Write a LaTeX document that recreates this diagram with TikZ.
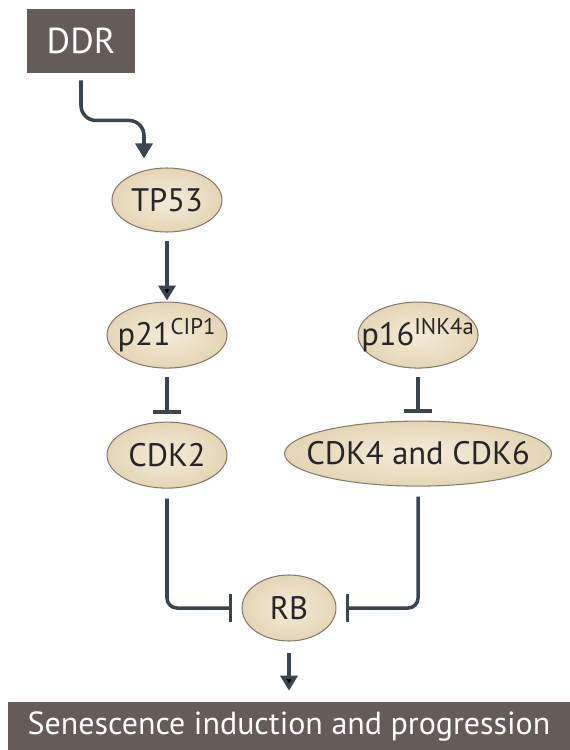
\documentclass[tikz,border=0pt]{standalone}
\usepackage{fontspec}
\setmainfont{PT Sans}
\usepackage{tikz}
\usetikzlibrary{arrows.meta,positioning,shapes.geometric,calc}
\definecolor{boxgrey}{HTML}{655B59}
\definecolor{protin}{HTML}{F4ECDA}
\definecolor{protout}{HTML}{E4D6B4}
\definecolor{rim}{HTML}{857B6C}
\definecolor{wire}{HTML}{3A4550}
% keeps the text from widening the ellipse
\newcommand{\pname}[1]{\makebox[0pt]{#1}}

\begin{document}
\begin{tikzpicture}
 	[node distance = 1cm, auto, font=\fontsize{18.5}{20}\selectfont,
 	% STYLES
 	% The signal style is used for the dark boxes at top and bottom
 	signal/.style={rectangle, fill=boxgrey, text=white, inner sep=0pt, minimum width=2.14cm, minimum height=1.28cm},
 	% The protein style is used to draw the proteins' names
 	protein/.style={ellipse, draw=rim, line width=0.6pt, inner color=protin, outer color=protout, inner sep=0pt, minimum width=2.4cm, minimum height=1.32cm, text=black!85},
 	% arrows for activation and inhibition
 	activate/.style={-{Triangle[length=0.3cm,width=0.34cm]}, line width=2pt, draw=wire},
 	inhibit/.style={-{Bar[width=0.56cm]}, line width=2pt, draw=wire}]
 	
 	\useasboundingbox (0,0) rectangle (11.4,-15);
 	
 	% top
 	\node [signal, font=\fontsize{20.5}{22}\selectfont] (DDR) at (1.62,-0.82) {DDR};
 	\node [protein, minimum width=2.2cm, minimum height=1.28cm] (TP53) at (3.34,-4.0) {\pname{TP53}};
 	%left
 	\node [protein, below = 1.38cm of TP53] (p21) {\pname{p21\textsuperscript{CIP1}}};
 	\node [protein, below = 1.06cm of p21] (CDK2) {\pname{CDK2}};
 	%right
 	\node [protein, right = 2.6cm of p21] (p16) {\pname{p16\textsuperscript{INK4a}}};
 	\node [protein, below = 1.04cm of p16, minimum width=5.34cm, minimum height=1.3cm] (CDK46) {\pname{CDK4 and CDK6}};
 	% bottom
 	\node [protein, minimum width=1.88cm] (RB) at (5.78,-12.16) {\pname{RB}};
 	\node [signal, minimum width=11.24cm, minimum height=0.96cm, font=\fontsize{18.2}{20}\selectfont] (Out) at (5.78,-14.52) {Senescence induction and progression};
 	
 	% DDR bends into TP53
 	\draw[activate, rounded corners=0.3cm, shorten <=0.14cm, shorten >=0.18cm]
 	(DDR.south) |- ($(TP53.north)+(-0.46,0.94)$) -- ($(TP53.north)+(-0.46,0)$);
 	% straight links
 	\path[activate, shorten <=0.16cm, shorten >=0.02cm]
 	(TP53) edge (p21);
 	\path[inhibit, shorten <=0.16cm, shorten >=0.16cm]
 	(p21) edge (CDK2)
 	(p16) edge (CDK46);
 	% lines into RB
 	\draw[inhibit, rounded corners=0.2cm, shorten <=0.2cm, shorten >=0.18cm]
 	(CDK2.south) |- (RB.west);
 	\draw[inhibit, rounded corners=0.2cm, shorten <=0.2cm, shorten >=0.18cm]
 	(CDK46.south) |- (RB.east);
 	\path[activate, shorten <=0.22cm, shorten >=0.22cm]
 	(RB) edge (Out);
 	
\end{tikzpicture}
\end{document}
